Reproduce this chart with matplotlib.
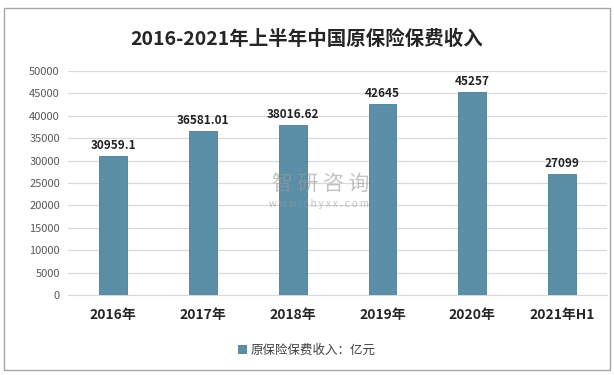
import matplotlib.pyplot as plt
from matplotlib.patches import Rectangle

plt.rcParams['font.family'] = ['Noto Sans CJK SC', 'DejaVu Sans']

years = ["2016年", "2017年", "2018年", "2019年", "2020年", "2021年H1"]
premium = [30959.1, 36581.01, 38016.62, 42645, 45257, 27099]
value_labels = ["30959.1", "36581.01", "38016.62", "42645", "45257", "27099"]
yticks = list(range(0, 50001, 5000))

bar_color = "#5b8fa8"

fig = plt.figure(figsize=(6.14, 3.75), dpi=100)
ax = fig.add_axes([0.111, 0.2133, 0.8776, 0.5974])

x = range(len(years))
ax.bar(x, premium, width=0.31, color=bar_color, edgecolor="#4d7d94",
       linewidth=0.6, zorder=3, label="原保险保费收入：亿元")
for i, (v, t) in enumerate(zip(premium, value_labels)):
    ax.text(i, v + 900, t, ha="center", va="bottom", fontsize=8.5,
            fontweight="bold", color="#222222")

ax.set_xlim(-0.5, len(years) - 0.5)
ax.set_ylim(0, 50000)
ax.set_yticks(yticks)
ax.set_yticklabels([str(t) for t in yticks], fontsize=8, color="#595959")
ax.set_xticks(list(x))
ax.set_xticklabels(years, fontsize=10, fontweight="bold", color="#262626")
ax.tick_params(axis="both", length=0, pad=6)
ax.tick_params(axis="x", pad=9)
ax.grid(axis="y", color="#d9d9d9", linewidth=0.9, zorder=0)
for s in ["top", "right", "left"]:
    ax.spines[s].set_visible(False)
ax.spines["bottom"].set_color("#d9d9d9")

fig.text(0.5, 0.895, "2016-2021年上半年中国原保险保费收入", ha="center", va="center",
         fontsize=14, fontweight="bold", color="#262626")

ax.legend(loc="center", bbox_to_anchor=(0.5, 0.067), bbox_transform=fig.transFigure,
          frameon=False, fontsize=9, handlelength=0.6, handleheight=0.6,
          handletextpad=0.4, labelcolor="#404040")

# watermark (on top of bars)
fig.text(0.523, 0.51, "智 研 咨 询", ha="center", va="center", fontsize=15,
         color="#9a9a9a", alpha=0.6)
fig.text(0.52, 0.455, "w w w . c h y x x . c o m", ha="center", va="center",
         fontsize=7, color="#9a9a9a", alpha=0.6)

fig.patches.append(Rectangle((0.007, 0.013), 0.986, 0.967, transform=fig.transFigure,
                             fill=False, edgecolor="#a6a6a6", linewidth=1))

fig.savefig("out.png", dpi=100)
